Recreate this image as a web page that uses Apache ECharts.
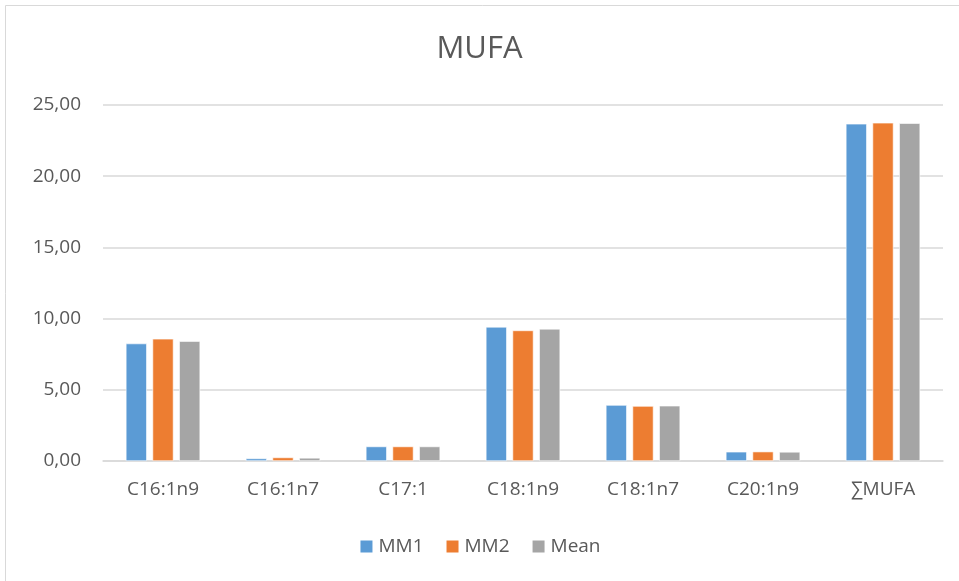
<!DOCTYPE html>
<html>
<head>
<meta charset="utf-8">
<script src="https://cdn.jsdelivr.net/npm/echarts@6/dist/echarts.min.js"></script>
<style>
  html, body { margin: 0; padding: 0; background: #ffffff; }
  #chart { width: 959px; height: 581px; }
</style>
</head>
<body>
<div id="chart"></div>
<script>
// Fatty acid groups on the category axis
const categories = ['C16:1n9', 'C16:1n7', 'C17:1', 'C18:1n9', 'C18:1n7', 'C20:1n9', '∑MUFA'];
// Series values (%)
const mm1 = [8.25, 0.18, 1.02, 9.42, 3.93, 0.65, 23.68];
const mm2 = [8.58, 0.25, 1.02, 9.17, 3.86, 0.66, 23.75];
const mean = [8.42, 0.22, 1.02, 9.28, 3.88, 0.64, 23.72];
const seriesNames = ['MM1', 'MM2', 'Mean'];
const colors = ['#5b9bd5', '#ed7d31', '#a5a5a5'];
// Value axis ticks
const yTicks = [0, 5, 10, 15, 20, 25];

const font = '"Open Sans", "Liberation Sans", sans-serif';
const textColor = '#595959';

const chart = echarts.init(document.getElementById('chart'), null, { renderer: 'canvas' });

const makeBar = (name, data, color) => ({
  name: name,
  type: 'bar',
  data: data,
  barWidth: 21,
  barGap: '27%',
  itemStyle: { color: color, borderColor: '#ffffff', borderWidth: 0.6 },
  emphasis: { disabled: true }
});

chart.setOption({
  animation: false,
  backgroundColor: '#ffffff',
  title: {
    text: 'MUFA',
    left: 'center',
    top: 29,
    textStyle: { fontFamily: font, fontSize: 31, fontWeight: 'normal', color: textColor }
  },
  legend: {
    data: seriesNames,
    bottom: 20,
    left: 'center',
    itemWidth: 14,
    itemHeight: 14,
    itemGap: 21,
    icon: 'rect',
    textStyle: { fontFamily: font, fontSize: 19, color: textColor }
  },
  grid: { left: 103, right: 16, top: 105, bottom: 120, containLabel: false },
  xAxis: {
    type: 'category',
    data: categories,
    axisLine: { lineStyle: { color: '#d9d9d9', width: 1.5 } },
    axisTick: { show: false },
    axisLabel: { fontFamily: font, fontSize: 19, color: textColor, margin: 19 }
  },
  yAxis: {
    type: 'value',
    min: yTicks[0],
    max: yTicks[yTicks.length - 1],
    interval: yTicks[1] - yTicks[0],
    axisLine: { show: false },
    axisTick: { show: false },
    splitLine: { lineStyle: { color: '#d9d9d9', width: 1.5 } },
    axisLabel: {
      fontFamily: font, fontSize: 19, color: textColor, margin: 22,
      formatter: v => v.toFixed(2).replace('.', ',')
    }
  },
  graphic: [{
    type: 'rect',
    shape: { x: 5.5, y: 5.5, width: 1000, height: 1000 },
    style: { fill: 'none', stroke: '#d9d9d9', lineWidth: 1 },
    silent: true
  }],
  series: [
    makeBar(seriesNames[0], mm1, colors[0]),
    makeBar(seriesNames[1], mm2, colors[1]),
    makeBar(seriesNames[2], mean, colors[2])
  ]
});
</script>
</body>
</html>
